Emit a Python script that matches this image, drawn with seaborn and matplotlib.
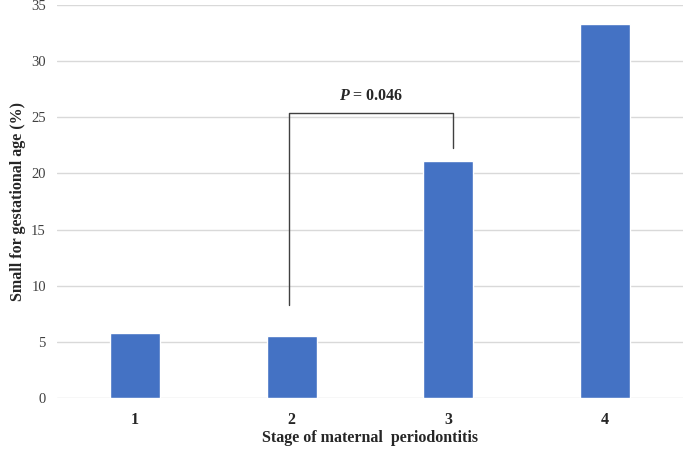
import pandas as pd
import seaborn as sns
import matplotlib.pyplot as plt

stages = ["1", "2", "3", "4"]
sga_pct = [5.8, 5.5, 21.1, 33.3]

# bracket between stage 2 and stage 3
bracket_y = 25.4
bracket_left_bottom = 8.3
bracket_right_bottom = 22.3
p_label = "0.046"

df = pd.DataFrame({"stage": stages, "sga": sga_pct})

sns.set_style("white")
plt.rcParams["font.family"] = ["Liberation Serif", "DejaVu Serif"]
plt.rcParams["mathtext.fontset"] = "custom"
plt.rcParams["mathtext.bfit"] = "Liberation Serif:bold:italic"

fig = plt.figure(figsize=(6.85, 4.49), dpi=100)
ax = fig.add_axes([57 / 685, 1 - 398 / 449, 1 - 57 / 685 - 0.003, (398 - 5) / 449])

sns.barplot(data=df, x="stage", y="sga", color="#4472C4", width=0.32,
            saturation=1, ax=ax, zorder=3)

ax.set_ylim(0, 35)
ax.set_xlim(-0.5, 3.5)
ax.set_yticks(range(0, 36, 5))
ax.yaxis.grid(True, color="#d9d9d9", linewidth=1, zorder=0)
ax.set_axisbelow(True)
for s in ax.spines.values():
    s.set_visible(False)
ax.tick_params(axis="both", length=0)
ax.tick_params(axis="y", labelsize=10.5, labelcolor="#404040", pad=8)
ax.tick_params(axis="x", labelsize=11.5, pad=10)
for lab in ax.get_xticklabels():
    lab.set_fontweight("bold")

ax.set_xlabel("Stage of maternal  periodontitis", fontsize=11.5, fontweight="bold")
ax.set_ylabel("Small for gestational age (%)", fontsize=11.5, fontweight="bold")
ax.xaxis.set_label_coords(0.5, -0.102)
ax.yaxis.set_label_coords(-0.0624, 0.5)
ax.xaxis.label.set_va("center")
ax.yaxis.label.set_va("center")

x2, x3 = 0.98, 2.03
ax.plot([x2, x2, x3, x3], [bracket_left_bottom, bracket_y, bracket_y, bracket_right_bottom],
        color="#404040", linewidth=1, zorder=4)
ax.text((x2 + x3) / 2, bracket_y + 0.8, r"$\bfit{P}$" + " = " + p_label,
        ha="center", va="bottom", fontsize=11.5, fontweight="bold")

fig.savefig("out.png", dpi=100)
